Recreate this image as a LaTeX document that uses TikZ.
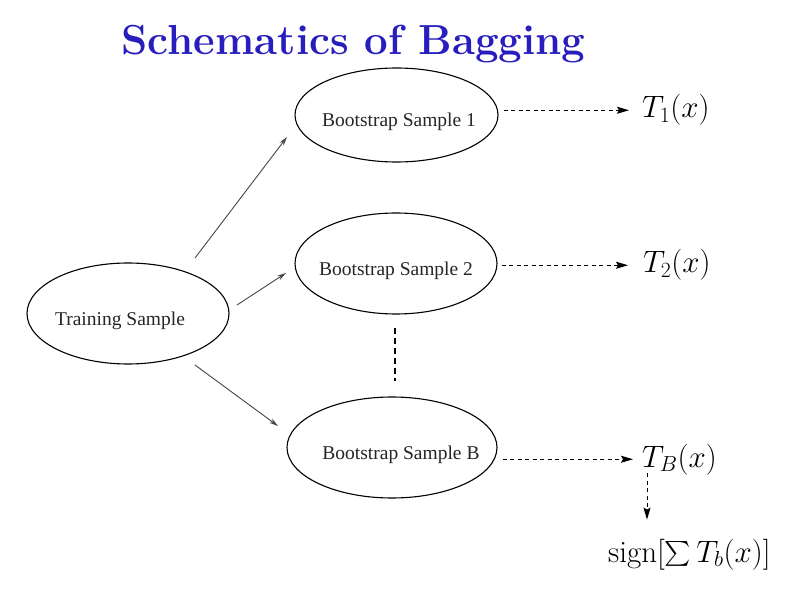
\RequirePackage{fix-cm}
\documentclass[tikz,border=0pt]{standalone}
\usepackage{amsmath}
\usepackage{fontspec}
\newfontfamily\timesfont{Liberation Serif}
\usetikzlibrary{shapes.geometric,arrows.meta}
\definecolor{titleblue}{RGB}{40,30,190}
\definecolor{arrowgray}{RGB}{70,70,70}
\newcommand{\ctext}[1]{\makebox[0pt]{#1}}
\tikzset{
  sampbox/.style={ellipse, draw=black, line width=1.1pt, inner sep=0pt,
    font=\timesfont\fontsize{19.5}{19.5}\selectfont, text=black!85,
    text height=24pt, text depth=0pt},
  mathlbl/.style={inner sep=0pt, anchor=base west, font=\fontsize{31}{31}\selectfont},
  solidarr/.style={draw=arrowgray, line width=0.9pt, -{Stealth[length=9pt,width=5pt]}},
  dasharr/.style={draw=black, line width=1pt, dash pattern=on 4.3pt off 3.2pt,
    -{Stealth[length=12pt,width=7pt,inset=2pt]}},
  vdashline/.style={draw=black, line width=1.6pt, dash pattern=on 6pt off 4pt}
}
\begin{document}
\begin{tikzpicture}[x=1pt,y=-1pt]
\path[use as bounding box, fill=white] (0,0) rectangle (804,596);
% title
\node[anchor=base, inner sep=0pt, text=titleblue,
  font=\bfseries\fontsize{42}{42}\selectfont] (title) at (353.5,55) {Schematics of Bagging};
% ellipses
\node[sampbox, minimum width=202pt, minimum height=101pt] (TS) at (128,313.5) {\ctext{Training Sample\hspace*{16pt}}};
\node[sampbox, minimum width=203pt, minimum height=94pt] (E1) at (396.5,115) {\ctext{\hspace*{5pt}Bootstrap Sample 1}};
\node[sampbox, minimum width=202pt, minimum height=101pt] (E2) at (396,263.5) {\ctext{Bootstrap Sample 2}};
\node[sampbox, minimum width=210pt, minimum height=101pt] (EB) at (392,447.5) {\ctext{\hspace*{18pt}Bootstrap Sample B}};
% outputs
\node[mathlbl] (T1) at (642,118) {$T_1(x)$};
\node[mathlbl] (T2) at (643,273) {$T_2(x)$};
\node[mathlbl] (TB) at (642,467) {$T_B(x)$};
\node[mathlbl] (S) at (608,562) {$\mathrm{sign}[\sum T_b(x)]$};
% solid arrows
\draw[solidarr] ([shift={(67,-55.5)}]TS.center) -- ([shift={(-109.5,22)}]E1.center);
\draw[solidarr] ([shift={(109,-8.5)}]TS.center) -- ([shift={(-110,9.5)}]E2.center);
\draw[solidarr] ([shift={(67,51.5)}]TS.center) -- ([shift={(-114,-21.5)}]EB.center);
% dashed arrows
\draw[dasharr] ([xshift=5pt]E1.east |- T1.west) -- ([xshift=-13pt]T1.west);
\draw[dasharr] ([xshift=4pt]E2.east |- T2.west) -- ([xshift=-15pt]T2.west);
\draw[dasharr] ([xshift=5pt]EB.east |- TB.west) -- ([xshift=-9pt]TB.west);
\draw[dasharr] ([xshift=5pt,yshift=-6pt]TB.base west) -- ([xshift=39pt,yshift=19pt]S.north west);
% vertical dots
\draw[vdashline] ([shift={(-1,13)}]E2.south) -- ([shift={(-1,66)}]E2.south);
\end{tikzpicture}
\end{document}
